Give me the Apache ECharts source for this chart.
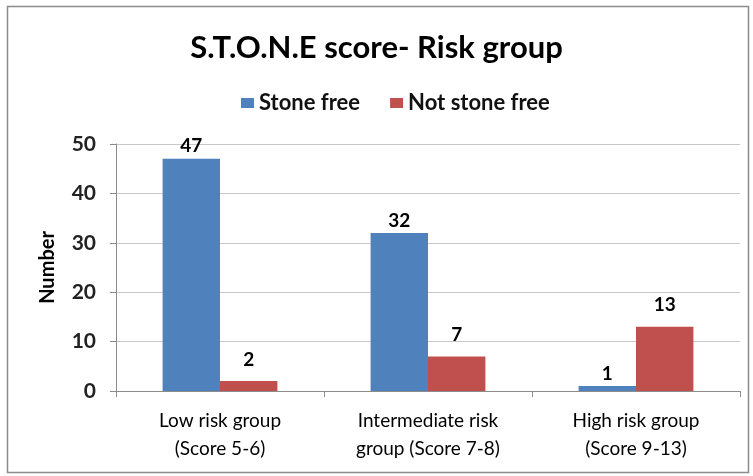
<!DOCTYPE html>
<html><head><meta charset="utf-8">
<script src="https://cdn.jsdelivr.net/npm/echarts@6/dist/echarts.min.js"></script>
<style>html,body{margin:0;padding:0;background:#fff}#c{width:753px;height:476px}</style>
</head><body><div id="c"></div>
<script>
const categories = ['Low risk group\n(Score 5-6)', 'Intermediate risk\ngroup (Score 7-8)', 'High risk group\n(Score 9-13)'];
const stoneFree = [47, 32, 1];
const notStoneFree = [2, 7, 13];
const yTicks = [0, 10, 20, 30, 40, 50];
const FONT = 'Lato, "Open Sans", sans-serif';
const chart = echarts.init(document.getElementById('c'));
chart.setOption({
  animation: false,
  backgroundColor: '#fff',
  graphic: [{type: 'rect', shape: {x: 7.5, y: 6.5, width: 741, height: 466}, style: {fill: 'none', stroke: '#8c8c8c', lineWidth: 1.5}, silent: true}],
  title: {text: 'S.T.O.N.E score- Risk group', left: 'center', top: 27,
    textStyle: {fontFamily: FONT, fontSize: 31, fontWeight: 'bold', color: '#000'}},
  legend: {top: 87, left: 236, itemWidth: 13, itemHeight: 10, itemGap: 30, icon: 'rect',
    textStyle: {fontFamily: FONT, fontSize: 22, fontWeight: 'bold', color: '#111'},
    data: ['Stone free', 'Not stone free']},
  grid: {left: 116, right: 13, top: 144, bottom: 85},
  xAxis: {type: 'category', data: categories,
    axisLine: {lineStyle: {color: '#8c8c8c', width: 1}},
    axisTick: {show: true, length: 6, lineStyle: {color: '#8c8c8c'}},
    axisLabel: {fontFamily: FONT, fontSize: 19, color: '#000', lineHeight: 28, margin: 16}},
  yAxis: {type: 'value', min: 0, max: 50, interval: 10,
    name: 'Number', nameLocation: 'middle', nameGap: 58, nameRotate: 90,
    nameTextStyle: {fontFamily: FONT, fontSize: 20, fontWeight: 'bold', color: '#000'},
    axisLine: {show: true, lineStyle: {color: '#8c8c8c'}},
    axisTick: {show: true, length: 6, inside: false, lineStyle: {color: '#8c8c8c'}},
    splitLine: {lineStyle: {color: '#c8c8c8'}},
    axisLabel: {fontFamily: FONT, fontSize: 21, fontWeight: 'bold', color: '#222', margin: 20,
      formatter: v => yTicks.includes(v) ? String(v) : ''}},
  series: [
    {name: 'Stone free', type: 'bar', data: stoneFree, barWidth: '27.6%', barGap: '0%',
      itemStyle: {color: '#4f81bd'},
      label: {show: true, position: 'top', distance: 3, fontFamily: FONT, fontSize: 19, fontWeight: 'bold', color: '#000'}},
    {name: 'Not stone free', type: 'bar', data: notStoneFree, barWidth: '27.6%',
      itemStyle: {color: '#c0504d'},
      label: {show: true, position: 'top', distance: 12, fontFamily: FONT, fontSize: 19, fontWeight: 'bold', color: '#000'}}
  ]
});
</script></body></html>
